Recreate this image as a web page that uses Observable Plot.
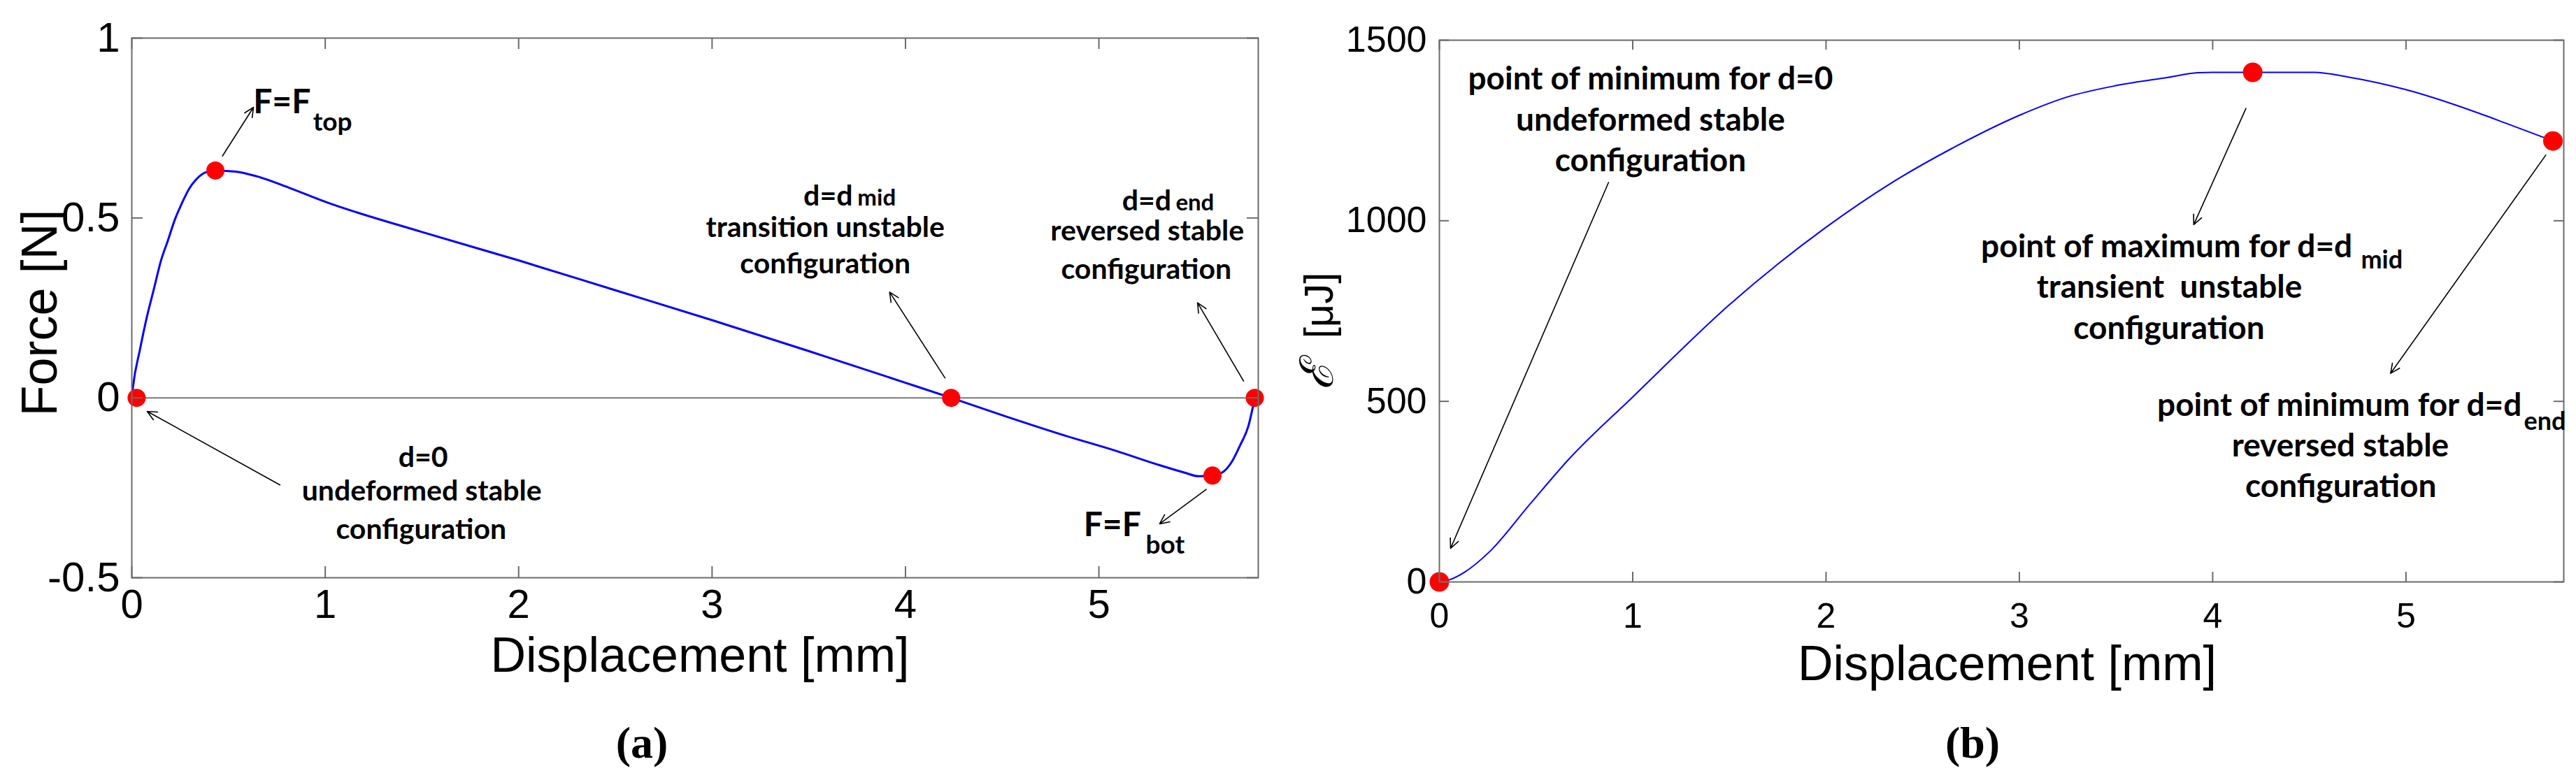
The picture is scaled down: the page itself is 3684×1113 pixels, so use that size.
<!DOCTYPE html>
<html>
<head>
<meta charset="utf-8">
<script src="https://cdn.jsdelivr.net/npm/d3@7"></script>
<script src="https://cdn.jsdelivr.net/npm/@observablehq/plot@0.6"></script>
<style>
  html, body { margin: 0; padding: 0; background: #ffffff; }
  #page { position: relative; width: 3684px; height: 1113px; background: #ffffff; overflow: hidden; }
  .panel { position: absolute; top: 0; }
  .caption { position: absolute; font-family: "Liberation Serif", "Times New Roman", serif; font-weight: bold; font-size: 64px; line-height: 64px; transform: translateX(-50%); white-space: nowrap; }
</style>
</head>
<body>
<div id="page">
  <div id="panelA" class="panel" style="left:0px"></div>
  <div id="panelB" class="panel" style="left:1842px"></div>
  <div class="caption" style="left:918px; top:1031px">(a)</div>
  <div class="caption" style="left:2821px; top:1031px">(b)</div>
</div>
<script>
// ---------------- data: panel (a) force vs displacement ----------------
const dispA = [0, 0.006, 0.042, 0.078, 0.114, 0.150, 0.187, 0.223, 0.259, 0.295, 0.331, 0.379, 0.434,
  0.536, 0.645, 0.813, 1.0, 1.5, 2.0, 2.5, 3.0, 3.5, 4.0, 4.236, 4.515, 4.801, 5.087, 5.301, 5.444,
  5.516, 5.587, 5.644, 5.687, 5.730, 5.773, 5.806];
const forceA = [0, 0.030, 0.134, 0.225, 0.302, 0.380, 0.438, 0.496, 0.541, 0.580, 0.606, 0.626, 0.632,
  0.629, 0.616, 0.584, 0.545, 0.461, 0.382, 0.299, 0.216, 0.130, 0.042, 0, -0.051, -0.101, -0.147, -0.185, -0.208,
  -0.218, -0.216, -0.205, -0.178, -0.132, -0.078, 0];
const keyDispA = [0.025, 0.432, 4.236, 5.587, 5.806];
const keyForceA = [0, 0.632, 0, -0.216, 0];

// ---------------- data: panel (b) energy vs displacement ----------------
const dispB = [0, 0.052, 0.13, 0.26, 0.468, 0.675, 1.0, 1.505, 2.0, 2.336, 2.65, 3.0, 3.249, 3.498, 3.768,
  3.923, 4.0, 4.207, 4.525, 4.701, 5.0, 5.324, 5.532, 5.76];
const energyB = [0, 6, 27, 84, 215, 343, 512, 770, 982, 1104, 1200, 1292, 1343, 1374, 1397,
  1410, 1411, 1411, 1411, 1398, 1363, 1308, 1267, 1221];
const keyDispB = [0, 4.207, 5.76];
const keyEnergyB = [0, 1411, 1221];

// ---------------- ticks & labels ----------------
const xTicks = [0, 1, 2, 3, 4, 5];
const yTicksA = [-0.5, 0, 0.5, 1];
const yTicksB = [0, 500, 1000, 1500];
const xLabel = "Displacement [mm]";
const yLabelA = "Force [N]";
const yLabelB = ["ℰ", "[μJ]"];

// ---------------- tables built from the arrays ----------------
const curveA = dispA.map((d, i) => ({d, f: forceA[i]}));
const pointsA = keyDispA.map((d, i) => ({d, f: keyForceA[i]}));
const curveB = dispB.map((d, i) => ({d, e: energyB[i]}));
const pointsB = keyDispB.map((d, i) => ({d, e: keyEnergyB[i]}));

// ---------------- annotations (in data units) ----------------
const notesA = [
  // centred lines
  {x: 1.506, y: -0.193, t: "d=0", a: "middle", s: 41},
  {x: 1.499, y: -0.285, t: "undeformed stable", a: "middle", s: 41},
  {x: 1.496, y: -0.392, t: "configuration", a: "middle", s: 41},
  {x: 3.585, y: 0.448, t: "transition unstable", a: "middle", s: 41},
  {x: 3.585, y: 0.346, t: "configuration", a: "middle", s: 41},
  {x: 5.250, y: 0.437, t: "reversed stable", a: "middle", s: 41},
  {x: 5.245, y: 0.330, t: "configuration", a: "middle", s: 41},
  // main parts followed by a subscript
  {x: 3.727, y: 0.535, t: "d=d", a: "end", s: 41},
  {x: 5.374, y: 0.522, t: "d=d", a: "end", s: 41},
  {x: 0.925, y: 0.792, t: "F=F", a: "end", s: 48},
  {x: 5.218, y: -0.384, t: "F=F", a: "end", s: 48},
  // subscripts
  {x: 3.752, y: 0.535, t: "mid", a: "start", s: 33},
  {x: 5.397, y: 0.522, t: "end", a: "start", s: 33},
  {x: 0.937, y: 0.742, t: "top", a: "start", s: 37},
  {x: 5.242, y: -0.432, t: "bot", a: "start", s: 37}
];
const arrowsA = [
  {x1: 0.766, y1: -0.242, x2: 0.0795, y2: -0.0375},
  {x1: 0.4686, y1: 0.6722, x2: 0.6291, y2: 0.8077},
  {x1: 4.204, y1: 0.0554, x2: 3.918, y2: 0.2940},
  {x1: 5.748, y1: 0.0468, x2: 5.510, y2: 0.2642},
  {x1: 5.555, y1: -0.2543, x2: 5.314, y2: -0.3503}
];
const notesB = [
  {x: 1.092, y: 1363.2, t: "point of minimum for d=0", a: "middle", s: 46},
  {x: 1.092, y: 1250.3, t: "undeformed stable", a: "middle", s: 46},
  {x: 1.092, y: 1136.5, t: "configuration", a: "middle", s: 46},
  {x: 3.776, y: 786.2, t: "transient  unstable", a: "middle", s: 46},
  {x: 3.774, y: 672.2, t: "configuration", a: "middle", s: 46},
  {x: 4.660, y: 346.5, t: "reversed stable", a: "middle", s: 46},
  {x: 4.663, y: 234.2, t: "configuration", a: "middle", s: 46},
  {x: 4.7226, y: 898.8, t: "point of maximum for d=d", a: "end", s: 46},
  {x: 5.5986, y: 459.1, t: "point of minimum for d=d", a: "end", s: 46},
  {x: 4.767, y: 869.0, t: "mid", a: "start", s: 36},
  {x: 5.610, y: 421.9, t: "end", a: "start", s: 36}
];
const arrowsB = [
  {x1: 0.875, y1: 1106.1, x2: 0.0579, y2: 92.9},
  {x1: 4.172, y1: 1310.9, x2: 3.902, y2: 989.4},
  {x1: 5.723, y1: 1181.8, x2: 4.920, y2: 577.4}
];

// ---------------- styling helpers ----------------
const AXIS_GRAY = "#6b6b6b";
const ANNO_FONT = "Lato, 'Open Sans', sans-serif";
const TICK_FONT = "'Liberation Sans', Arial, sans-serif";

function noteMarks(notes) {
  return ["middle", "end", "start"].map(a =>
    Plot.text(notes.filter(n => n.a === a), {
      x: "x", y: "y", text: "t", fontSize: "s", textAnchor: a, lineAnchor: "bottom",
      fontFamily: ANNO_FONT, fontWeight: "bold", fill: "#000"
    })
  );
}

function boxTicks(xt, yt, innerW, innerH, len) {
  const st = {stroke: AXIS_GRAY, strokeWidth: 2};
  return [
    Plot.ruleX(xt, {x: d => d, insetTop: innerH - len, ...st}),
    Plot.ruleX(xt, {x: d => d, insetBottom: innerH - len, ...st}),
    Plot.ruleY(yt, {y: d => d, insetRight: innerW - len, ...st}),
    Plot.ruleY(yt, {y: d => d, insetLeft: innerW - len, ...st})
  ];
}

// ---------------- panel (a) ----------------
const WA = 1842, HA = 1000, mLA = 188, mRA = 43, mTA = 54, mBA = 174;
const plotA = Plot.plot({
  width: WA, height: HA,
  marginLeft: mLA, marginRight: mRA, marginTop: mTA, marginBottom: mBA,
  style: {background: "transparent", fontFamily: TICK_FONT, overflow: "visible"},
  x: {domain: [0, 5.824]},
  y: {domain: [-0.5, 1]},
  marks: [
    Plot.ruleY([0], {stroke: "#7a7a7a", strokeWidth: 2}),
    Plot.line(curveA, {x: "d", y: "f", stroke: "#0000ff", strokeWidth: 3, curve: "monotone-x"}),
    Plot.arrow(arrowsA, {x1: "x1", y1: "y1", x2: "x2", y2: "y2", stroke: "#000", strokeWidth: 1.6, headLength: 14, headAngle: 50}),
    Plot.dot(pointsA, {x: "d", y: "f", r: 13, fill: "#ff0000", stroke: null}),
    Plot.frame({stroke: AXIS_GRAY, strokeWidth: 2}),
    ...boxTicks(xTicks, yTicksA, WA - mLA - mRA, HA - mTA - mBA, 16),
    Plot.axisX({ticks: xTicks, tickSize: 0, tickPadding: 16, fontSize: 58, label: null, fill: "#000", tickFormat: d => String(d)}),
    Plot.axisY({ticks: yTicksA, tickSize: 0, tickPadding: 17, fontSize: 60, label: null, fill: "#000", tickFormat: d => String(d)}),
    Plot.text([xLabel], {frameAnchor: "bottom", textAnchor: "middle", dx: 7, dy: 134, lineAnchor: "bottom", fontSize: 70, fill: "#000"}),
    Plot.text([yLabelA], {frameAnchor: "left", textAnchor: "middle", rotate: -90, dx: -108, dy: 7, lineAnchor: "bottom", fontSize: 72, fill: "#000"}),
    ...noteMarks(notesA)
  ]
});
document.getElementById("panelA").appendChild(plotA);

// ---------------- panel (b) ----------------
const WB = 1842, HB = 1000, mLB = 216, mRB = 18, mTB = 57, mBB = 168;
const plotB = Plot.plot({
  width: WB, height: HB,
  marginLeft: mLB, marginRight: mRB, marginTop: mTB, marginBottom: mBB,
  style: {background: "transparent", fontFamily: TICK_FONT, overflow: "visible"},
  x: {domain: [0, 5.816]},
  y: {domain: [0, 1500]},
  marks: [
    Plot.line(curveB, {x: "d", y: "e", stroke: "#0000ff", strokeWidth: 2, curve: "monotone-x"}),
    Plot.arrow(arrowsB, {x1: "x1", y1: "y1", x2: "x2", y2: "y2", stroke: "#000", strokeWidth: 1.6, headLength: 14, headAngle: 50}),
    Plot.dot(pointsB, {x: "d", y: "e", r: 14, fill: "#ff0000", stroke: null}),
    Plot.frame({stroke: AXIS_GRAY, strokeWidth: 2}),
    ...boxTicks(xTicks, yTicksB, WB - mLB - mRB, HB - mTB - mBB, 14),
    Plot.axisX({ticks: xTicks, tickSize: 0, tickPadding: 30, fontSize: 50, label: null, fill: "#000", tickFormat: d => String(d)}),
    Plot.axisY({ticks: yTicksB, tickSize: 0, tickPadding: 18, fontSize: 52, label: null, fill: "#000", tickFormat: d => String(d)}),
    Plot.text([xLabel], {frameAnchor: "bottom", textAnchor: "middle", dx: 8, dy: 140, lineAnchor: "bottom", fontSize: 70, fill: "#000"}),
    Plot.text([yLabelB[0]], {frameAnchor: "left", textAnchor: "middle", rotate: -90, dx: -153, dy: 93, lineAnchor: "bottom", fontSize: 66, fontStyle: "italic", fontFamily: "'DejaVu Serif', serif", fill: "#000"}),
    Plot.text([yLabelB[1]], {frameAnchor: "left", textAnchor: "middle", rotate: -90, dx: -153, dy: -8, lineAnchor: "bottom", fontSize: 58, fill: "#000"}),
    ...noteMarks(notesB)
  ]
});
document.getElementById("panelB").appendChild(plotB);
</script>
</body>
</html>
